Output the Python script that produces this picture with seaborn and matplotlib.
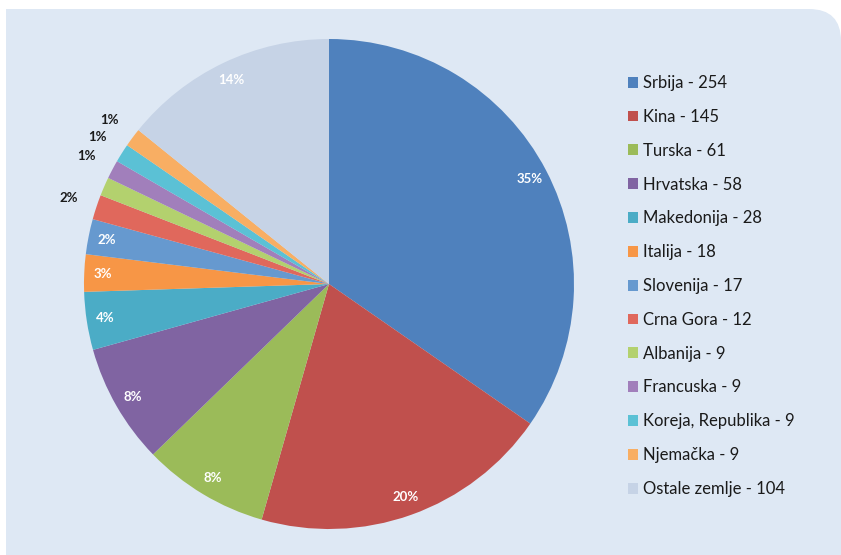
import numpy as np
import matplotlib
matplotlib.use("Agg")
import matplotlib.pyplot as plt
from matplotlib.path import Path
from matplotlib.patches import PathPatch
import seaborn as sns

# === Data ===
countries = ["Srbija", "Kina", "Turska", "Hrvatska", "Makedonija", "Italija",
             "Slovenija", "Crna Gora", "Albanija", "Francuska",
             "Koreja, Republika", "Njemačka", "Ostale zemlje"]
counts = [254, 145, 61, 58, 28, 18, 17, 12, 9, 9, 9, 9, 104]
pct_labels = ["35%", "20%", "8%", "8%", "4%", "3%", "2%", "2%", "", "1%",
              "1%", "1%", "14%"]
colors = ["#4f81bd", "#c0504d", "#9bbb59", "#8064a2", "#4bacc6", "#f79646",
          "#6699cf", "#e0685c", "#b3d16e", "#a17fbb", "#5bc1d5", "#f8ae63",
          "#c6d3e6"]

BG = "#dee8f4"
W, H = 841, 555

sns.set_theme(style="white")
plt.rcParams["font.family"] = ["Lato", "DejaVu Sans"]

fig = plt.figure(figsize=(W / 100, H / 100), dpi=100)
fig.patch.set_facecolor("white")

# === Background panel with rounded top-right corner ===
def fx(px):
    return px / W

def fy(py):
    return 1 - py / H

r = 32
verts = [(fx(6), fy(555)), (fx(6), fy(9)), (fx(841 - r), fy(9)),
         (fx(841), fy(9)), (fx(841), fy(9 + r)), (fx(841), fy(555)),
         (fx(6), fy(555))]
codes = [Path.MOVETO, Path.LINETO, Path.LINETO, Path.CURVE3, Path.CURVE3,
         Path.LINETO, Path.CLOSEPOLY]
fig.patches.append(PathPatch(Path(verts, codes), facecolor=BG, edgecolor="none",
                             transform=fig.transFigure, zorder=-5))

# === Pie ===
cx, cy, rad = 329, 284, 245
ax = fig.add_axes([fx(cx - rad), fy(cy + rad), 2 * rad / W, 2 * rad / H])
ax.set_zorder(2)
ax.set_facecolor("none")
wedges, _ = ax.pie(counts, colors=colors, startangle=90, counterclock=False,
                   radius=1, wedgeprops=dict(linewidth=0))
ax.set_xlim(-1, 1)
ax.set_ylim(-1, 1)
ax.set_aspect("auto")
ax.axis("off")

total = sum(counts)
for w, n, lab in zip(wedges, counts, pct_labels):
    if not lab:
        continue
    ang = np.deg2rad((w.theta1 + w.theta2) / 2)
    inside = n / total >= 0.02
    d = 0.925 if inside else 1.12
    ax.text(d * np.cos(ang), d * np.sin(ang), lab, ha="center", va="center",
            fontsize=9.5, fontweight="bold",
            color="white" if inside else "#1a1a1a")

# === Legend ===
leg_labels = [f"{c} - {n}" for c, n in zip(countries, counts)]
leg = fig.legend(wedges, leg_labels, loc="upper left",
                 bbox_to_anchor=(fx(628), fy(75)), frameon=False, fontsize=12,
                 handlelength=0.62, handleheight=0.62, handletextpad=0.3,
                 labelspacing=1.07, borderpad=0, borderaxespad=0,
                 labelcolor="#1a1a1a")
leg.set_zorder(3)

fig.savefig("out.png", dpi=100, facecolor="white")
